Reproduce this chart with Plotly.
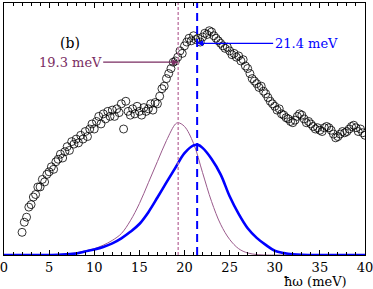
import plotly.graph_objects as go

# ---------------- data ----------------
energy = [2.0 + 0.25 * i for i in range(153)]
intensity = [
    0.09, 0.13, 0.15, 0.19,
    0.20, 0.23, 0.24, 0.27,
    0.27, 0.30, 0.29, 0.32,
    0.33, 0.35, 0.34, 0.37,
    0.38, 0.40, 0.385, 0.41,
    0.43, 0.415, 0.45, 0.44,
    0.46, 0.445, 0.475, 0.46,
    0.49, 0.47, 0.50, 0.52,
    0.50, 0.53, 0.55, 0.52,
    0.56, 0.54, 0.57, 0.55,
    0.575, 0.55, 0.58, 0.565,
    0.60, 0.50, 0.61, 0.57,
    0.555, 0.58, 0.56, 0.59,
    0.57, 0.555, 0.585, 0.57,
    0.58, 0.60, 0.575, 0.605,
    0.60, 0.63, 0.66, 0.67,
    0.70, 0.72, 0.74, 0.765,
    0.77, 0.785, 0.81, 0.80,
    0.83, 0.845, 0.86, 0.85,
    0.87, 0.855, 0.86, 0.845,
    0.865, 0.88, 0.875, 0.89,
    0.885, 0.87, 0.86, 0.85,
    0.84, 0.83, 0.82, 0.825,
    0.81, 0.795, 0.80, 0.785,
    0.79, 0.77, 0.775, 0.75,
    0.74, 0.72, 0.70, 0.69,
    0.68, 0.665, 0.67, 0.65,
    0.64, 0.625, 0.61, 0.60,
    0.59, 0.575, 0.58, 0.56,
    0.555, 0.545, 0.54, 0.53,
    0.525, 0.535, 0.55, 0.56,
    0.555, 0.54, 0.525, 0.53,
    0.52, 0.51, 0.50, 0.505,
    0.495, 0.49, 0.505, 0.51,
    0.505, 0.495, 0.48, 0.465,
    0.47, 0.48, 0.49, 0.485,
    0.49, 0.50, 0.51, 0.515,
    0.505, 0.49, 0.50, 0.485,
    0.475,
]

blue_x = [0, 2, 4, 6, 7, 8, 9, 10, 11, 12, 13, 14, 15, 16, 17, 18, 19, 20, 21, 21.5,
          22, 23, 24, 25, 26, 27, 28, 29, 30, 31, 32, 33, 35, 40]
blue_y = [0, 0, 0, 0.001, 0.003, 0.006, 0.014, 0.022, 0.032, 0.046, 0.066, 0.092, 0.123,
          0.170, 0.228, 0.288, 0.347, 0.404, 0.435, 0.437, 0.425, 0.381, 0.320, 0.233,
          0.163, 0.106, 0.068, 0.040, 0.017, 0.008, 0.003, 0.001, 0, 0]

purple_x = [0, 2, 4, 6, 7, 8, 9, 10, 11, 12, 13, 14, 15, 16, 17, 18, 19, 19.3, 20, 21,
            22, 23, 24, 25, 26, 27, 28, 29, 31, 40]
purple_y = [0, 0, 0, 0.001, 0.004, 0.009, 0.016, 0.025, 0.039, 0.058, 0.085, 0.136, 0.204,
            0.287, 0.371, 0.454, 0.520, 0.525, 0.510, 0.443, 0.327, 0.212, 0.122, 0.062,
            0.025, 0.008, 0.002, 0, 0, 0]

peak_purple = 19.3
peak_blue = 21.4
arrow_y_purple = 0.765
arrow_y_blue = 0.84
x_ticks = [0, 5, 10, 15, 20, 25, 30, 35, 40]

PURPLE_TXT = "#7a2c62"
PURPLE_LINE = "#9a5a8c"
PURPLE_V = "#c07aa6"
BLUE = "#0000ff"
FONT = "DejaVu Serif"

fig = go.Figure()
fig.add_trace(go.Scatter(x=purple_x, y=purple_y, mode="lines",
                         line=dict(color=PURPLE_LINE, width=1, shape="spline", smoothing=1.0),
                         hoverinfo="skip"))
fig.add_trace(go.Scatter(x=blue_x, y=blue_y, mode="lines",
                         line=dict(color=BLUE, width=2.6, shape="spline", smoothing=1.0),
                         hoverinfo="skip"))
fig.add_trace(go.Scatter(x=energy, y=intensity, mode="markers",
                         marker=dict(symbol="circle-open", size=8, color="black",
                                     line=dict(width=0.8, color="black"))))

fig.add_shape(type="line", xref="x", yref="paper", x0=peak_purple, x1=peak_purple, y0=0, y1=1,
              line=dict(color=PURPLE_V, width=1.4, dash="3px,2px"))
fig.add_shape(type="line", xref="x", yref="paper", x0=peak_blue, x1=peak_blue, y0=0, y1=1,
              line=dict(color=BLUE, width=2, dash="8px,5px"))

fig.add_annotation(x=peak_purple, y=arrow_y_purple, xref="x", yref="y",
                   text=f"{peak_purple} meV", showarrow=True, ax=-108, ay=0,
                   arrowhead=2, arrowsize=1, arrowwidth=1.2, arrowcolor=PURPLE_TXT,
                   standoff=0, font=dict(family=FONT, size=13, color=PURPLE_TXT))
fig.add_annotation(x=peak_blue, y=arrow_y_blue, xref="x", yref="y",
                   text=f"{peak_blue} meV", showarrow=True, ax=109, ay=0,
                   arrowhead=2, arrowsize=1, arrowwidth=1.2, arrowcolor=BLUE,
                   standoff=0, font=dict(family=FONT, size=13, color=BLUE))
fig.add_annotation(x=0.15, y=0.88, xref="paper", yref="paper", text="(b)", showarrow=False,
                   font=dict(family=FONT, size=14, color="black"))
fig.add_annotation(x=0.77, y=-0.104, xref="paper", yref="paper", text="ħω (meV)",
                   showarrow=False, xanchor="left", yanchor="middle",
                   font=dict(family=FONT, size=13, color="black"))

fig.update_layout(
    width=373, height=289,
    margin=dict(l=4, r=8, t=3, b=34, autoexpand=False),
    paper_bgcolor="white", plot_bgcolor="white",
    showlegend=False,
    font=dict(family=FONT, size=13, color="black"),
)
fig.update_xaxes(range=[0, 40], tickvals=x_ticks, ticks="inside", ticklen=5, tickwidth=1,
                 tickcolor="black", showline=True, linecolor="black", linewidth=1,
                 mirror="ticks", showgrid=False, zeroline=False, automargin=False,
                 ticklabeloverflow="allow",
                 tickfont=dict(family=FONT, size=13),
                 minor=dict(dtick=1, ticks="inside", ticklen=3, tickcolor="black", showgrid=False))
fig.update_yaxes(range=[0, 1], showticklabels=False, ticks="", showline=True, automargin=False,
                 linecolor="black", linewidth=1, mirror=True, showgrid=False, zeroline=False)

fig.write_html("out.html", config={"displayModeBar": False},
               post_script="document.body.style.margin='0';")
